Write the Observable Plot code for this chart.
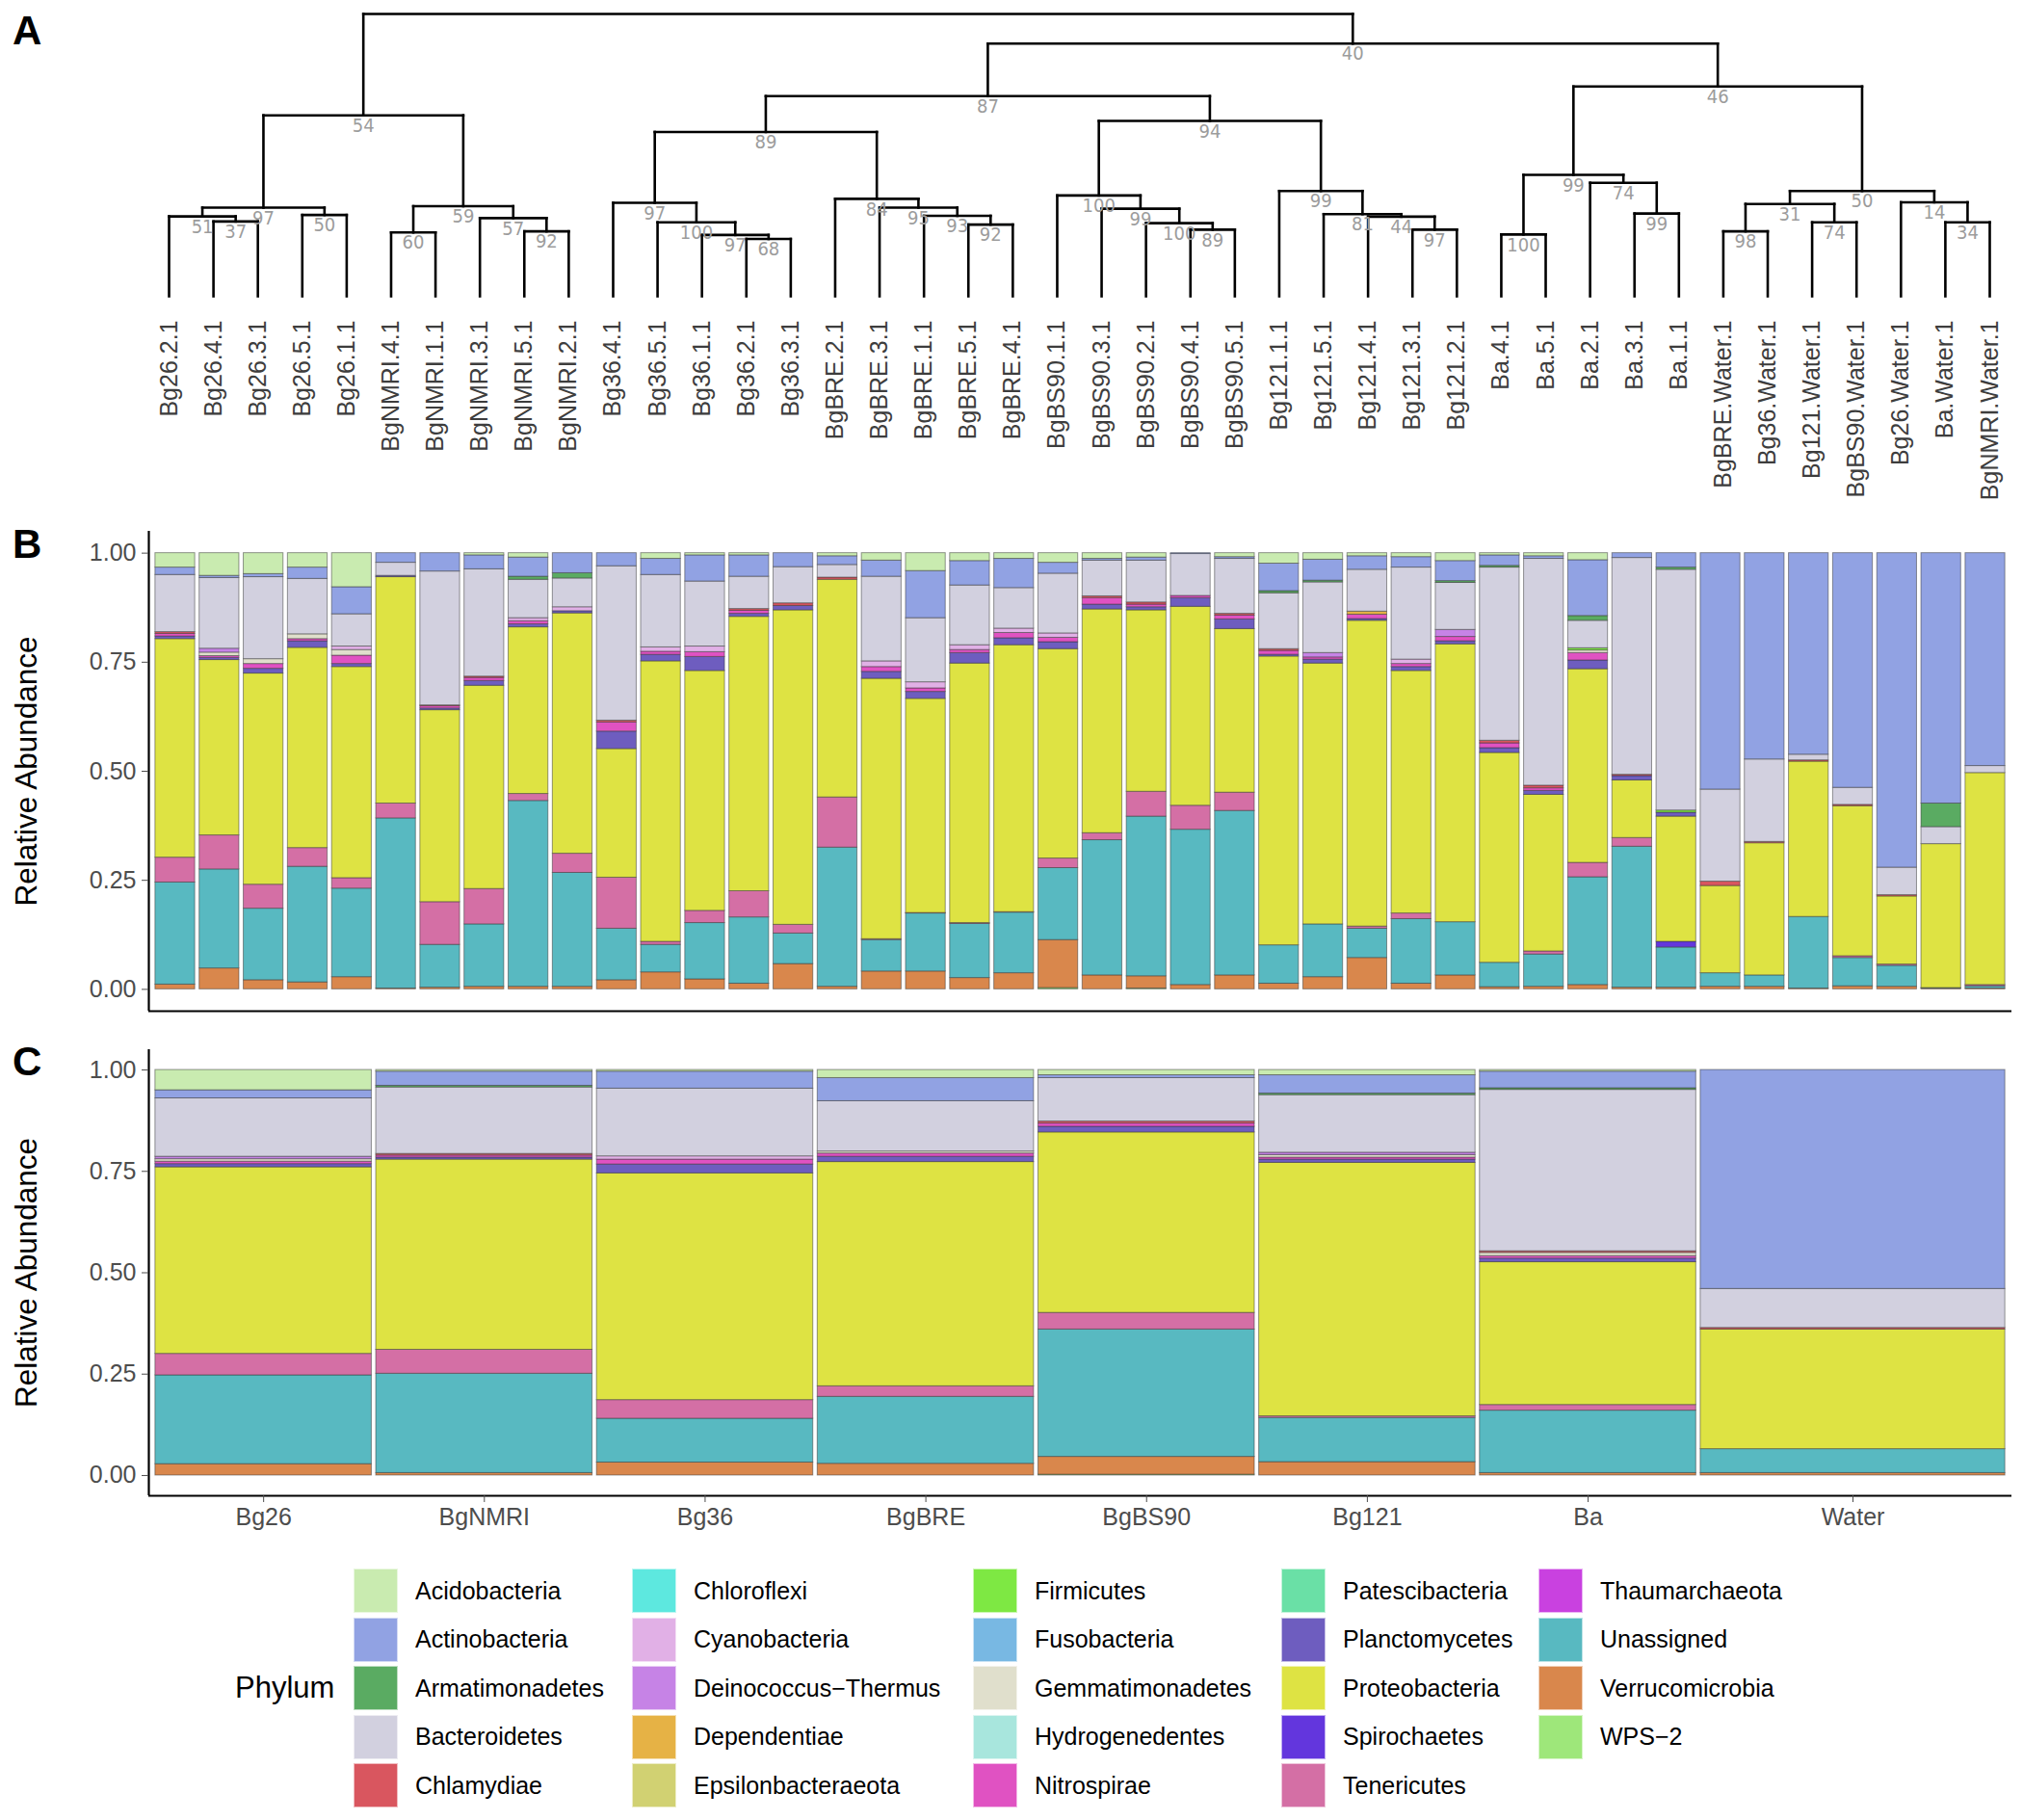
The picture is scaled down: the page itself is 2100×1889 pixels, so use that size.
<!DOCTYPE html>
<html><head><meta charset="utf-8">
<script src="https://cdn.jsdelivr.net/npm/d3@7"></script>
<script src="https://cdn.jsdelivr.net/npm/@observablehq/plot@0.6"></script>
<style>
body{margin:0;background:#fff;font-family:"Liberation Sans",Arial,Helvetica,sans-serif;}
#fig{position:relative;width:2100px;height:1889px;background:#fff;overflow:hidden;}
.panel{position:absolute;left:0;}
.plab{position:absolute;left:13px;font-weight:bold;font-size:42px;line-height:42px;color:#000;}
#legend{position:absolute;left:367px;top:1628px;display:grid;grid-auto-flow:column;grid-template-rows:repeat(5,46px);row-gap:4.5px;grid-template-columns:289px 354px 320px 267px auto;}
.item{display:flex;align-items:center;font-size:25px;color:#000;white-space:nowrap;}
.sw{width:46px;height:46px;margin-right:18px;box-sizing:border-box;border:1px solid rgba(255,255,255,0.6);}
#ltitle{position:absolute;left:244px;top:1733px;font-size:31px;line-height:38px;color:#000;}
</style></head>
<body><div id="fig"></div>
<script>
// ---------- categories ----------
const phyla = ["Acidobacteria","Actinobacteria","Armatimonadetes","Bacteroidetes","Chlamydiae",
  "Chloroflexi","Cyanobacteria","Deinococcus−Thermus","Dependentiae","Epsilonbacteraeota",
  "Firmicutes","Fusobacteria","Gemmatimonadetes","Hydrogenedentes","Nitrospirae",
  "Patescibacteria","Planctomycetes","Proteobacteria","Spirochaetes","Tenericutes",
  "Thaumarchaeota","Unassigned","Verrucomicrobia","WPS−2"];
const phylaColors = ["#c9ebb0","#91a2e3","#5aab62","#d2d0df","#d9565f",
  "#5de8df","#e1b0e6","#c683e6","#e6b245","#d1d172",
  "#7ee843","#78b8e3","#e0dfcc","#a8e6dd","#e052c2",
  "#6ae0a6","#6e5dbf","#dee343","#6336dd","#d46fa5",
  "#c941e0","#58b9c1","#d9874c","#9ee77a"];

const samples = ["Bg26.2.1","Bg26.4.1","Bg26.3.1","Bg26.5.1","Bg26.1.1",
  "BgNMRI.4.1","BgNMRI.1.1","BgNMRI.3.1","BgNMRI.5.1","BgNMRI.2.1",
  "Bg36.4.1","Bg36.5.1","Bg36.1.1","Bg36.2.1","Bg36.3.1",
  "BgBRE.2.1","BgBRE.3.1","BgBRE.1.1","BgBRE.5.1","BgBRE.4.1",
  "BgBS90.1.1","BgBS90.3.1","BgBS90.2.1","BgBS90.4.1","BgBS90.5.1",
  "Bg121.1.1","Bg121.5.1","Bg121.4.1","Bg121.3.1","Bg121.2.1",
  "Ba.4.1","Ba.5.1","Ba.2.1","Ba.3.1","Ba.1.1",
  "BgBRE.Water.1","Bg36.Water.1","Bg121.Water.1","BgBS90.Water.1","Bg26.Water.1","Ba.Water.1","BgNMRI.Water.1"];

const groups = ["Bg26","BgNMRI","Bg36","BgBRE","BgBS90","Bg121","Ba","Water"];
const groupCounts = [5,5,5,5,5,5,5,7];
const yTicks = [0,0.25,0.5,0.75,1];

// ---------- dendrogram: [node, left, right, height, bootstrap] ----------
const treeNodes = [
  ["g26_37","Bg26.4.1","Bg26.3.1",0.265,37],
  ["g26_51","Bg26.2.1","g26_37",0.283,51],
  ["g26_50","Bg26.5.1","Bg26.1.1",0.288,50],
  ["g26_97","g26_51","g26_50",0.314,97],
  ["nm_60","BgNMRI.4.1","BgNMRI.1.1",0.226,60],
  ["nm_92","BgNMRI.5.1","BgNMRI.2.1",0.230,92],
  ["nm_57","BgNMRI.3.1","nm_92",0.277,57],
  ["nm_59","nm_60","nm_57",0.319,59],
  ["n54","g26_97","nm_59",0.641,54],
  ["b36_68","Bg36.2.1","Bg36.3.1",0.203,68],
  ["b36_97b","Bg36.1.1","b36_68",0.217,97],
  ["b36_100","Bg36.5.1","b36_97b",0.262,100],
  ["b36_97","Bg36.4.1","b36_100",0.331,97],
  ["bre_92","BgBRE.5.1","BgBRE.4.1",0.254,92],
  ["bre_93","BgBRE.1.1","bre_92",0.285,93],
  ["bre_95","BgBRE.3.1","bre_93",0.314,95],
  ["bre_84","BgBRE.2.1","bre_95",0.345,84],
  ["n89","b36_97","bre_84",0.582,89],
  ["bs_89","BgBS90.4.1","BgBS90.5.1",0.236,89],
  ["bs_100b","BgBS90.2.1","bs_89",0.259,100],
  ["bs_99","BgBS90.3.1","bs_100b",0.310,99],
  ["bs_100","BgBS90.1.1","bs_99",0.357,100],
  ["g121_97","Bg121.3.1","Bg121.2.1",0.236,97],
  ["g121_44","Bg121.4.1","g121_97",0.282,44],
  ["g121_81","Bg121.5.1","g121_44",0.291,81],
  ["g121_99","Bg121.1.1","g121_81",0.373,99],
  ["n94","bs_100","g121_99",0.621,94],
  ["n87","n89","n94",0.709,87],
  ["ba_100","Ba.4.1","Ba.5.1",0.219,100],
  ["ba_99b","Ba.3.1","Ba.1.1",0.293,99],
  ["ba_74","Ba.2.1","ba_99b",0.402,74],
  ["ba_99","ba_100","ba_74",0.430,99],
  ["w_98","BgBRE.Water.1","Bg36.Water.1",0.230,98],
  ["w_74","Bg121.Water.1","BgBS90.Water.1",0.262,74],
  ["w_31","w_98","w_74",0.327,31],
  ["w_34","Ba.Water.1","BgNMRI.Water.1",0.262,34],
  ["w_14","Bg26.Water.1","w_34",0.333,14],
  ["w_50","w_31","w_14",0.373,50],
  ["n46","ba_99","w_50",0.743,46],
  ["n40","n87","n46",0.895,40],
  ["root","n54","n40",1.0,null]
];

// ---------- panel B: per-sample relative abundance ----------
const bAcido = [.033,.052,.048,.033,.078, 0,0,.005,.010,0, 0,.013,.005,.005,0, .007,.017,.041,.018,.013, .022,.013,.010,0,.009, .024,.015,.007,.009,.018, .005,.007,.016,0,0, 0,0,0,0,0,0,0];
const bActino = [.017,.005,.007,.026,.062, .022,.042,.032,.044,.046, .030,.037,.060,.049,.032, .020,.037,.108,.056,.067, .025,.004,.007,.002,.004, .063,.048,.031,.024,.046, .024,.006,.128,.011,.033, .542,.473,.462,.538,.721,.574,.488];
const bArmat = [0,0,0,0,0, 0,0,0,.007,.012, 0,0,0,0,0, 0,0,0,0,0, 0,0,0,0,0, .005,.004,0,0,.004, .004,0,.011,0,.005, 0,0,0,0,0,.054,0];
const bBactero = [.131,.162,.188,.127,.074, .030,.307,.246,.088,.066, .354,.166,.149,.074,.083, .029,.194,.147,.137,.093, .137,.082,.096,.096,.126, .128,.162,.096,.211,.108, .397,.520,.063,.497,.552, .211,.189,.013,.039,.063,.039,.016];
const bChlamydiae = [.004,0,0,0,0, 0,.002,.003,0,0, .004,0,0,.004,.006, .005,0,0,0,0, 0,.004,.005,0,.004, .004,0,0,0,0, .006,.006,0,.003,0, .010,.003,.003,.003,.003,0,0];
const bCyano = [0,0,0,0,.008, 0,0,0,.007,.009, 0,.010,.013,0,0, 0,.013,.014,.011,.010, .010,0,0,0,0, 0,0,0,.010,0, 0,0,0,0,0, 0,0,0,0,0,0,0];
const bDeino = [0,.009,0,0,0, 0,0,0,0,0, 0,0,0,0,0, 0,0,0,0,0, 0,0,0,0,0, 0,.010,0,0,.016, 0,0,0,0,0, 0,0,0,0,0,0,0];
const bDepend = [0,0,0,0,0, 0,0,0,0,0, 0,0,0,0,0, 0,0,0,0,0, 0,0,0,0,0, 0,0,.007,0,0, 0,0,0,0,0, 0,0,0,0,0,0,0];
const bFirmi = [0,0,0,0,0, 0,0,0,0,0, 0,0,0,0,0, 0,0,0,0,0, 0,0,0,0,0, 0,0,0,0,0, 0,0,.005,0,.005, 0,0,0,0,0,0,0];
const bGemma = [0,.008,.011,.011,.013, 0,0,0,0,0, 0,0,0,0,0, 0,0,0,0,0, 0,0,0,0,0, 0,0,0,0,0, 0,0,.006,0,0, 0,0,0,0,0,0,0];
const bNitro = [.006,.004,.011,.005,.019, 0,.005,.007,.007,0, .021,.007,.011,.007,0, 0,.011,.008,.007,.012, .010,.015,.006,.005,.009, .009,.005,.010,.007,.010, .011,.006,.017,0,0, 0,0,0,0,0,0,0];
const bPlancto = [.006,.005,.011,.015,.007, .003,.004,.011,.007,.005, .040,.015,.032,.007,.010, 0,.016,.016,.024,.016, .016,.011,.007,.020,.022, .004,.009,.004,.009,.007, .011,.009,.020,.010,.009, 0,0,0,0,0,0,0];
const bProteo = [.501,.402,.484,.459,.484, .519,.440,.466,.382,.551, .295,.643,.550,.629,.721, .499,.597,.491,.595,.612, .480,.513,.416,.456,.375, .662,.598,.701,.556,.637, .481,.359,.444,.132,.287, .200,.303,.356,.344,.156,.330,.486];
const bSpiro = [0,0,0,0,0, 0,0,0,0,0, 0,0,0,0,0, 0,0,0,0,0, 0,0,0,0,0, 0,0,0,0,0, 0,0,0,0,.013, 0,0,0,0,0,0,0];
const bTeneri = [.057,.078,.055,.043,.024, .034,.098,.081,.016,.044, .117,.007,.028,.060,.020, .115,.002,.001,.002,.001, .022,.016,.057,.055,.042, 0,0,.005,.013,0, 0,.007,.033,.020,0, 0,0,0,.004,.003,0,.003];
const bUnass = [.234,.227,.164,.265,.203, .390,.098,.143,.426,.261, .118,.063,.129,.152,.070, .319,.072,.133,.124,.139, .165,.310,.366,.356,.377, .088,.121,.067,.148,.122, .056,.074,.247,.323,.092, .031,.026,.164,.065,.048,.001,.005];
const bVerru = [.011,.048,.021,.016,.028, .002,.004,.006,.006,.006, .021,.039,.023,.013,.058, .006,.041,.041,.026,.037, .110,.032,.028,.010,.032, .013,.028,.072,.013,.032, .005,.006,.010,.004,.004, .006,.006,.002,.007,.006,.002,.002];
const bWPS = [0,0,0,0,0, 0,0,0,0,0, 0,0,0,0,0, 0,0,0,0,0, .003,0,.002,0,0, 0,0,0,0,0, 0,0,0,0,0, 0,0,0,0,0,0,0];

// ---------- panel C: per-group relative abundance ----------
const cAcido = [.050,.004,.004,.020,.013,.013,.004,0];
const cActino = [.020,.035,.042,.057,.007,.045,.041,.540];
const cArmat = [0,.004,0,0,0,.004,.004,0];
const cBactero = [.144,.164,.167,.124,.107,.142,.398,.096];
const cChlamydiae = [0,.004,0,0,.005,0,.004,.004];
const cCyano = [0,0,.008,0,0,0,0,0];
const cDeino = [.006,0,0,0,0,.006,0,0];
const cGemma = [.006,0,0,.005,0,.006,.008,0];
const cNitro = [.006,.005,.012,.008,.008,.005,.006,0];
const cPlancto = [.008,.005,.022,.013,.014,.008,.009,0];
const cProteo = [.460,.469,.559,.553,.445,.625,.352,.295];
const cTeneri = [.053,.059,.046,.026,.041,.004,.014,0];
const cUnass = [.219,.245,.108,.165,.314,.109,.154,.059];
const cVerru = [.028,.006,.032,.029,.044,.033,.006,.006];
const cWPS = [0,0,0,0,.002,0,0,0];

// ---------- tables built from the arrays ----------
const seriesB = {"Acidobacteria":bAcido,"Actinobacteria":bActino,"Armatimonadetes":bArmat,"Bacteroidetes":bBactero,
  "Chlamydiae":bChlamydiae,"Cyanobacteria":bCyano,"Deinococcus−Thermus":bDeino,"Dependentiae":bDepend,"Firmicutes":bFirmi,
  "Gemmatimonadetes":bGemma,"Nitrospirae":bNitro,"Planctomycetes":bPlancto,"Proteobacteria":bProteo,"Spirochaetes":bSpiro,
  "Tenericutes":bTeneri,"Unassigned":bUnass,"Verrucomicrobia":bVerru,"WPS−2":bWPS};
const seriesC = {"Acidobacteria":cAcido,"Actinobacteria":cActino,"Armatimonadetes":cArmat,"Bacteroidetes":cBactero,
  "Chlamydiae":cChlamydiae,"Cyanobacteria":cCyano,"Deinococcus−Thermus":cDeino,"Gemmatimonadetes":cGemma,
  "Nitrospirae":cNitro,"Planctomycetes":cPlancto,"Proteobacteria":cProteo,"Tenericutes":cTeneri,
  "Unassigned":cUnass,"Verrucomicrobia":cVerru,"WPS−2":cWPS};

const stackOrder = phyla.slice().reverse(); // first level on top, as in ggplot

function stackRows(n, series) {
  const rows = d3.range(n).map(i => {
    const r = {i};
    for (const p of phyla) r[p] = (series[p] || [])[i] || 0;
    return r;
  });
  const st = d3.stack().keys(stackOrder).offset(d3.stackOffsetExpand)(rows);
  const out = [];
  for (const layer of st) for (const s of layer) {
    if (s[1] - s[0] > 0) out.push({phylum: layer.key, i: s.data.i, y1: s[0], y2: s[1]});
  }
  return out;
}

const FONT = "'Liberation Sans', Arial, Helvetica, sans-serif";
const baseStyle = {fontFamily: FONT, fontSize: "25px", color: "#4d4d4d", background: "white", overflow: "visible"};
const colorScale = {domain: phyla, range: phylaColors};
const fig = document.getElementById("fig");

function place(el, top) {
  el.classList.add("panel");
  el.style.top = top + "px";
  fig.appendChild(el);
}

// ---------- Panel A: dendrogram ----------
const pos = new Map();
samples.forEach((s, i) => pos.set(s, {x: i, h: 0}));
const segs = [], boots = [];
for (const [id, l, r, h, b] of treeNodes) {
  const a = pos.get(l), c = pos.get(r);
  const xm = (a.x + c.x) / 2;
  pos.set(id, {x: xm, h});
  segs.push({x1: a.x, y1: h, x2: c.x, y2: h});
  segs.push({x1: a.x, y1: a.h, x2: a.x, y2: h});
  segs.push({x1: c.x, y1: c.h, x2: c.x, y2: h});
  if (b != null) boots.push({x: xm, h, b: String(b)});
}

const plotA = Plot.plot({
  width: 2100, height: 545,
  marginLeft: 175, marginRight: 35, marginTop: 14, marginBottom: 238,
  x: {domain: [0, samples.length - 1], axis: null},
  y: {domain: [0, 1], axis: null},
  style: baseStyle,
  marks: [
    Plot.link(segs, {x1: "x1", y1: "y1", x2: "x2", y2: "y2", stroke: "black", strokeWidth: 2.6, strokeLinecap: "square"}),
    Plot.text(boots, {x: "x", y: "h", text: "b", lineAnchor: "top", dy: 3, fill: "#9c9c9c", fontSize: 20,
      fontFamily: "'Liberation Sans Narrow', 'DejaVu Sans Condensed', 'Arial Narrow', sans-serif"}),
    Plot.text(samples, {x: (d, i) => i, y: 0, text: d => d, rotate: -90, textAnchor: "end", lineAnchor: "middle",
      dy: 25, fill: "#3d3d3d", fontSize: 25})
  ]
});
place(plotA, 0);

// ---------- Panel B ----------
const segB = stackRows(samples.length, seriesB).map(d => ({...d, x1: d.i + 1 - 0.45, x2: d.i + 1 + 0.45}));
const plotB = Plot.plot({
  width: 2100, height: 514,
  marginLeft: 154, marginRight: 12, marginTop: 6, marginBottom: 10,
  x: {domain: [0.4, samples.length + 0.6], axis: null},
  y: {domain: [-0.05, 1.05]},
  color: colorScale,
  style: baseStyle,
  marks: [
    Plot.rect(segB, {x1: "x1", x2: "x2", y1: "y1", y2: "y2", fill: "phylum", stroke: "#333", strokeOpacity: 0.5, strokeWidth: 1}),
    Plot.ruleY([-0.05], {stroke: "black", strokeWidth: 2.2}),
    Plot.ruleX([0.4], {stroke: "black", strokeWidth: 2.2}),
    Plot.axisY({ticks: yTicks, tickFormat: d3.format(".2f"), tickSize: 7, tickPadding: 6, fontSize: 25, label: null}),
    Plot.text(["Relative Abundance"], {frameAnchor: "left", textAnchor: "middle", lineAnchor: "middle", rotate: -90, dx: -127, fontSize: 31.5, fill: "black"})
  ]
});
place(plotB, 545);

// ---------- Panel C ----------
const starts = [0, ...d3.cumsum(groupCounts)];
const gx1 = groups.map((g, j) => starts[j] + 0.55);
const gx2 = groups.map((g, j) => starts[j] + groupCounts[j] + 0.45);
const centers = groups.map((g, j) => (gx1[j] + gx2[j]) / 2);
const nameByCenter = new Map(centers.map((c, j) => [c, groups[j]]));
const segC = stackRows(groups.length, seriesC).map(d => ({...d, x1: gx1[d.i], x2: gx2[d.i]}));
const plotC = Plot.plot({
  width: 2100, height: 545,
  marginLeft: 154, marginRight: 12, marginTop: 30, marginBottom: 52,
  x: {domain: [0.4, samples.length + 0.6]},
  y: {domain: [-0.05, 1.05]},
  color: colorScale,
  style: baseStyle,
  marks: [
    Plot.rect(segC, {x1: "x1", x2: "x2", y1: "y1", y2: "y2", fill: "phylum", stroke: "#333", strokeOpacity: 0.5, strokeWidth: 1}),
    Plot.ruleY([-0.05], {stroke: "black", strokeWidth: 2.2}),
    Plot.ruleX([0.4], {stroke: "black", strokeWidth: 2.2}),
    Plot.axisY({ticks: yTicks, tickFormat: d3.format(".2f"), tickSize: 7, tickPadding: 6, fontSize: 25, label: null}),
    Plot.axisX({ticks: centers, tickFormat: d => nameByCenter.get(d), tickSize: 7, tickPadding: 6, fontSize: 25, label: null}),
    Plot.text(["Relative Abundance"], {frameAnchor: "left", textAnchor: "middle", lineAnchor: "middle", rotate: -90, dx: -127, fontSize: 31.5, fill: "black"})
  ]
});
place(plotC, 1059);

// ---------- panel letters ----------
[["A", 11], ["B", 544], ["C", 1081]].forEach(([t, top]) => {
  const d = document.createElement("div");
  d.className = "plab"; d.textContent = t; d.style.top = top + "px";
  fig.appendChild(d);
});

// ---------- legend ----------
const lt = document.createElement("div");
lt.id = "ltitle"; lt.textContent = "Phylum";
fig.appendChild(lt);
const lg = document.createElement("div");
lg.id = "legend";
phyla.forEach((p, k) => {
  const it = document.createElement("div");
  it.className = "item";
  const sw = document.createElement("div");
  sw.className = "sw"; sw.style.background = phylaColors[k];
  const tx = document.createElement("span");
  tx.textContent = p;
  it.appendChild(sw); it.appendChild(tx);
  lg.appendChild(it);
});
fig.appendChild(lg);
</script>
</body></html>
